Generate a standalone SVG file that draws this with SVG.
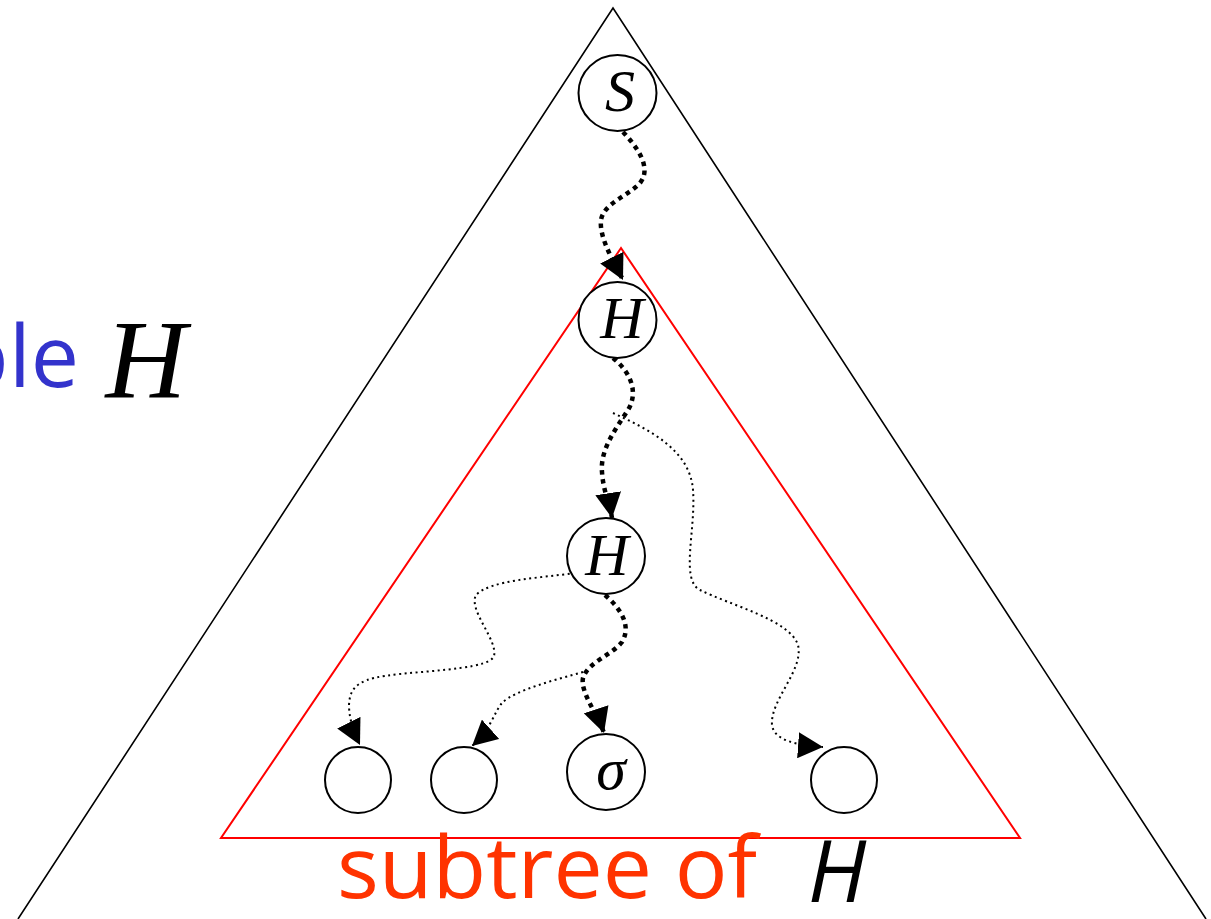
<svg xmlns="http://www.w3.org/2000/svg" width="1211" height="919" viewBox="0 0 1211 919">
<style>
.node{fill:#fff;stroke:#000;stroke-width:2}
.lbl{font-family:"Liberation Serif","Times New Roman",serif;font-style:italic;font-size:60px;fill:#000;text-anchor:middle}
.thick{fill:none;stroke:#000;stroke-width:4.5;stroke-dasharray:4.5 4.5}
.thin{fill:none;stroke:#000;stroke-width:2;stroke-dasharray:2 3.5}
.comic{font-family:"Comic Sans MS","Open Sans","DejaVu Sans",sans-serif;font-size:86px}
</style>
<defs>
<marker id="ah" markerUnits="userSpaceOnUse" markerWidth="26" markerHeight="26" refX="25" refY="13" orient="auto" viewBox="0 0 26 26">
<path d="M0,0 L25,13 L0,26 z" fill="#000"/>
</marker>
</defs>
<rect width="1211" height="919" fill="#fff"/>
<g id="outer-tree">
<polyline points="18,919 613,8 1206,919" fill="none" stroke="#000" stroke-width="1.6"/>
</g>
<g id="subtree">
<polygon points="621,248 221,838 1020,838" fill="none" stroke="#ff0000" stroke-width="2"/>
</g>
<g id="connectors">
<path class="thick" d="M623,132 C638,148 652,168 640,183 C628,196 604,203 601,220 C599,238 614,262 623,280" marker-end="url(#ah)"/>
<path class="thick" d="M613,358 C628,370 640,390 628,410 C615,430 600,450 602,472 C603,490 610,505 612,518" marker-end="url(#ah)"/>
<path class="thin" d="M613,413 C650,430 690,450 693,490 C696,530 680,580 700,590 C730,605 790,620 798,645 C804,670 770,700 772,725 C774,740 795,745 823,747" marker-end="url(#ah)"/>
<path class="thick" d="M605,595 C620,608 632,625 622,642 C612,655 588,662 583,678 C580,692 598,715 604,733" marker-end="url(#ah)"/>
<path class="thin" d="M575,573 C540,578 490,580 476,595 C468,610 498,640 494,656 C490,668 440,670 400,674 C360,678 350,685 349,705 C349,720 355,735 360,745" marker-end="url(#ah)"/>
<path class="thin" d="M583,672 C555,680 515,690 502,703 C494,712 492,728 472,746" marker-end="url(#ah)"/>
</g>
<g id="node-S">
<ellipse class="node" cx="617.5" cy="93" rx="39" ry="38"/>
<text class="lbl" x="620" y="111">S</text>
</g>
<g id="node-H1">
<ellipse class="node" cx="617.5" cy="320" rx="39" ry="38"/>
<text class="lbl" x="622" y="338">H</text>
</g>
<g id="node-H2">
<ellipse class="node" cx="606" cy="556" rx="39" ry="38"/>
<text class="lbl" x="607" y="575">H</text>
</g>
<g id="leaf-1">
<circle class="node" cx="358" cy="780" r="33"/>
</g>
<g id="leaf-2">
<circle class="node" cx="464" cy="780" r="33"/>
</g>
<g id="leaf-sigma">
<ellipse class="node" cx="606" cy="772" rx="39" ry="38"/>
<text class="lbl" x="611" y="789" font-size="68">σ</text>
</g>
<g id="leaf-4">
<circle class="node" cx="844" cy="780" r="33"/>
</g>
<g id="label-left">
<text class="comic" y="387" fill="#3333cc"><tspan x="-44">b</tspan><tspan x="9">le</tspan></text>
<text x="146" y="397" font-family="Liberation Serif,'Times New Roman',serif" font-style="italic" font-size="112" text-anchor="middle">H</text>
</g>
<g id="label-bottom">
<text class="comic" x="337" y="898" fill="#ff3300" textLength="420" lengthAdjust="spacingAndGlyphs">subtree of</text>
<text class="comic" x="837" y="902" font-style="italic" font-size="68" text-anchor="middle" fill="#000">H</text>
</g>
</svg>
